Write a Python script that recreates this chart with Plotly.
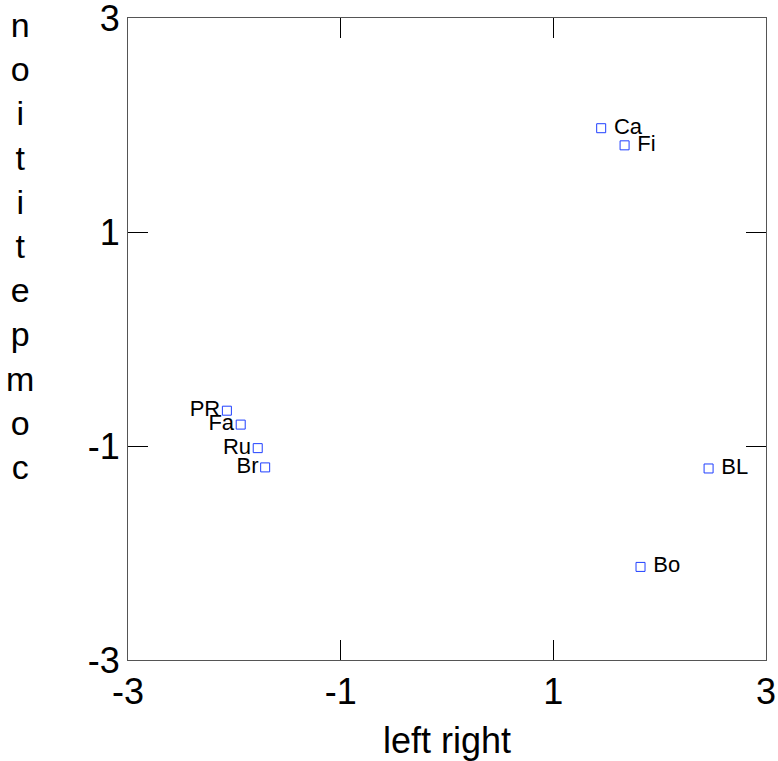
import plotly.graph_objects as go

names = ["Ca", "Fi", "BL", "Bo", "PR", "Fa", "Ru", "Br"]
left_right = [1.45, 1.67, 2.46, 1.82, -2.07, -1.94, -1.78, -1.71]
competition = [1.97, 1.81, -1.21, -2.13, -0.67, -0.80, -1.02, -1.20]
text_pos = ["middle right"] * 4 + ["middle left"] * 4
tick_vals = [-3, -1, 1, 3]
y_title = "competition"

FONT = "Liberation Sans, Arial"

labels = [(" " + n if p == "middle right" else n) for n, p in zip(names, text_pos)]

fig = go.Figure()
fig.add_trace(go.Scatter(
    x=left_right, y=competition, mode="markers+text",
    text=labels, textposition=text_pos,
    textfont=dict(family=FONT, size=22, color="black"),
    marker=dict(symbol="square-open", size=9, color="#1f3fff", line=dict(width=1)),
    showlegend=False, cliponaxis=False,
))

axis_common = dict(
    range=[-3, 3], tickvals=tick_vals, ticktext=[str(v) for v in tick_vals],
    ticks="inside", ticklen=20, tickwidth=1, tickcolor="black",
    showline=True, linecolor="#555", linewidth=1, mirror="ticks",
    showgrid=False, zeroline=False, automargin=False,
    ticklabeloverflow="allow",
    tickfont=dict(family=FONT, size=36, color="black"),
)
fig.update_xaxes(**axis_common, title=dict(text="left right",
                 font=dict(family=FONT, size=36, color="black"), standoff=16))
fig.update_yaxes(**axis_common)

fig.add_annotation(
    text="<br>".join(list(y_title[::-1])),
    xref="paper", yref="paper", x=-0.169, y=1.022, xanchor="center", yanchor="top",
    showarrow=False,
    font=dict(family=FONT, size=34, color="black"),
)

fig.update_layout(
    width=778, height=761,
    margin=dict(l=128, r=12, t=18, b=101),
    paper_bgcolor="white", plot_bgcolor="white",
)
fig.write_html("out.html")
